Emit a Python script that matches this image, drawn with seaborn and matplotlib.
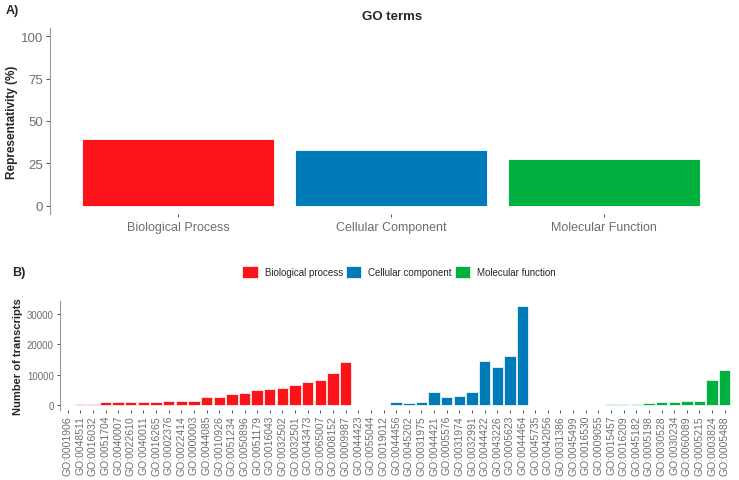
import matplotlib
matplotlib.use("Agg")
import matplotlib.pyplot as plt
import seaborn as sns
import pandas as pd

# panel A: representativity of each GO domain
top_categories = ["Biological Process", "Cellular Component", "Molecular Function"]
top_values = [39.5, 32.8, 27.7]

# panel B: transcripts per GO term
go_terms = [
    "GO:0001906", "GO:0048511", "GO:0016032", "GO:0051704", "GO:0040007",
    "GO:0022610", "GO:0040011", "GO:0016265", "GO:0002376", "GO:0022414",
    "GO:0000003", "GO:0044085", "GO:0010926", "GO:0051234", "GO:0050896",
    "GO:0051179", "GO:0016043", "GO:0032502", "GO:0032501", "GO:0043473",
    "GO:0065007", "GO:0008152", "GO:0009987",
    "GO:0044423", "GO:0055044", "GO:0019012", "GO:0044456", "GO:0045202",
    "GO:0031975", "GO:0044421", "GO:0005576", "GO:0031974", "GO:0032991",
    "GO:0044422", "GO:0043226", "GO:0005623", "GO:0044464",
    "GO:0045735", "GO:0042056", "GO:0031386", "GO:0045499", "GO:0016530",
    "GO:0009055", "GO:0015457", "GO:0016209", "GO:0045182", "GO:0005198",
    "GO:0030528", "GO:0030234", "GO:0060089", "GO:0005215", "GO:0003824",
    "GO:0005488",
]
bp_counts = [30, 300, 300, 870, 870, 1090, 1090, 1090, 1400, 1400, 1400, 2500,
             2700, 3700, 4000, 4900, 5300, 5650, 6600, 7700, 8400, 10650, 14240]
cc_counts = [0, 0, 0, 1090, 760, 1090, 4240, 2700, 3040, 4350, 14350, 12400,
             16300, 32700]
mf_counts = [0, 0, 0, 0, 0, 0, 250, 300, 300, 650, 870, 1090, 1400, 1400,
             8150, 11600]
go_classes = (["Biological process"] * len(bp_counts)
              + ["Cellular component"] * len(cc_counts)
              + ["Molecular function"] * len(mf_counts))

red, blue, green = "#fc1219", "#007bba", "#00b140"
grey_txt = "#6e6e6e"

sns.set_style("white")
plt.rcParams["font.family"] = ["Liberation Sans", "DejaVu Sans"]

fig = plt.figure(figsize=(7.39, 4.81), dpi=100)

# ---- panel A ----
ax1 = fig.add_axes([0.0677, 0.553, 0.9228, 0.387])
top_df = pd.DataFrame({"domain": top_categories, "pct": top_values})
sns.barplot(data=top_df, x="domain", y="pct", hue="domain",
            palette=[red, blue, green], width=0.9, legend=False,
            saturation=1, edgecolor="white", linewidth=0.6, ax=ax1)
ax1.set_xlim(-0.6, 2.6)
ax1.set_ylim(-5, 105)
ax1.set_yticks([0, 25, 50, 75, 100])
ax1.set_xlabel("")
ax1.set_ylabel("Representativity (%)", fontsize=8.5, fontweight="bold",
               labelpad=2)
ax1.tick_params(axis="x", bottom=True, labelsize=9, colors="#333333",
                labelcolor=grey_txt, length=2, width=0.6, pad=3)
ax1.tick_params(axis="y", left=True, labelsize=9.5, colors="#333333",
                labelcolor=grey_txt, length=3, width=0.6, pad=2)
for s in ["top", "right", "bottom"]:
    ax1.spines[s].set_visible(False)
ax1.spines["left"].set_color("#999999")
ax1.spines["left"].set_linewidth(0.8)
fig.text(0.5305, 0.965, "GO terms", ha="center", va="center", fontsize=9.5,
         fontweight="bold")
fig.text(0.008, 0.978, "A)", ha="left", va="center", fontsize=9,
         fontweight="bold")

# ---- panel B ----
ax2 = fig.add_axes([0.0812, 0.1455, 0.9098, 0.2273])
go_df = pd.DataFrame({"term": go_terms,
                      "count": bp_counts + cc_counts + mf_counts,
                      "cls": go_classes})
sns.barplot(data=go_df, x="term", y="count", hue="cls",
            palette=[red, blue, green], width=0.9, dodge=False,
            saturation=1, edgecolor="white", linewidth=0.5, ax=ax2)
ax2.set_xlim(-0.6, len(go_terms) - 0.4)
ax2.set_ylim(-1635, 34335)
ax2.set_yticks([0, 10000, 20000, 30000])
ax2.set_xlabel("")
ax2.set_ylabel("Number of transcripts", fontsize=8, fontweight="bold",
               labelpad=3)
ax2.tick_params(axis="x", bottom=True, labelsize=7.5, colors="#333333",
                labelcolor=grey_txt, length=2, width=0.6, pad=1.5,
                labelrotation=90)
ax2.tick_params(axis="y", left=True, labelsize=7, colors="#333333",
                labelcolor=grey_txt, length=2.5, width=0.6, pad=2)
for s in ["top", "right", "bottom"]:
    ax2.spines[s].set_visible(False)
ax2.spines["left"].set_color("#999999")
ax2.spines["left"].set_linewidth(0.8)
sns.move_legend(ax2, "center", bbox_to_anchor=(0.54, 0.432),
                bbox_transform=fig.transFigure, ncol=3, frameon=False,
                title=None, fontsize=7, handlelength=1.6, handleheight=1.6,
                handletextpad=0.7, columnspacing=0.3)
fig.text(0.016, 0.432, "B)", ha="left", va="center", fontsize=9,
         fontweight="bold")

fig.savefig("out.png", dpi=100)
plt.close(fig)
